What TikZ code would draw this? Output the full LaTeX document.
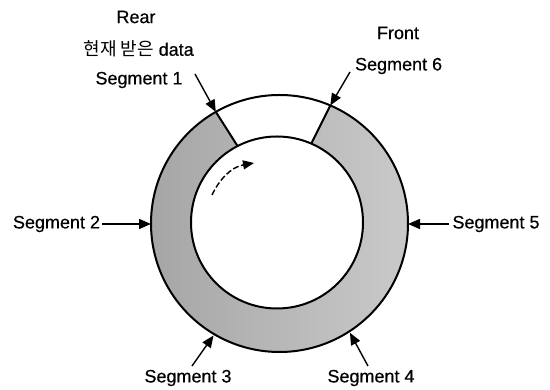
\documentclass[tikz,border=0pt]{standalone}
\usepackage{fontspec}
\setmainfont{Liberation Sans}[FakeBold=0.4]
\newfontfamily\kr{Noto Sans CJK KR}
\usetikzlibrary{arrows.meta,calc}
\begin{document}
\begin{tikzpicture}[x=1pt,y=1pt,
  lbl/.style={inner sep=0pt,font=\fontsize{18}{20}\selectfont},
  ptr/.style={line width=1.4pt,-{Triangle[length=12pt,width=10pt]}},
  rim/.style={line width=2pt}]
\useasboundingbox (0,0) rectangle (550,390);
\coordinate (co) at (279.5,166.5);
\coordinate (ci) at (277,167.5);
% ring fill
\shade[left color=black!36,right color=black!20]
  ($(co)+(119.7:128.5)$) arc[start angle=119.7,end angle=426.7,radius=128.5]
  -- ($(ci)+(66.5:86)$) arc[start angle=426.5,end angle=117.3,radius=86] -- cycle;
\draw[rim] (co) circle[radius=128.5];
\draw[rim] (ci) circle[radius=86];
\draw[rim] ($(co)+(119.7:128.5)$) -- ($(ci)+(117.3:86)$);
\draw[rim] ($(co)+(66.7:128.5)$) -- ($(ci)+(66.5:86)$);
% labels
\node[lbl] (rear) at (136,373) {Rear};
\node[lbl] (cur) at (138.6,341) {{\kr 현재 받은} data};
\node[lbl] (s1) at (139,310) {Segment 1};
\node[lbl] (front) at (398,357) {Front};
\node[lbl] (s6) at (398.6,324) {Segment 6};
\node[lbl] (s2) at (56.5,166) {Segment 2};
\node[lbl] (s5) at (496,166) {Segment 5};
\node[lbl] (s3) at (188,12) {Segment 3};
\node[lbl] (s4) at (371,12) {Segment 4};
% arrow coordinates
\coordinate (a1s) at (195,316);
\coordinate (a1t) at ($(co)+(119.7:128.5)$);
\coordinate (a6s) at (350,318);
\coordinate (a6t) at ($(co)+(66.7:128.5)$);
\coordinate (a2t) at (151,166);
\coordinate (a5t) at (408,166);
\coordinate (a3s) at (192,24);
\coordinate (a3t) at ($(co)+(239.5:130)$);
\coordinate (a4s) at (368,24);
\coordinate (a4t) at ($(co)+(302.8:130)$);
\draw[ptr] (a1s) -- (a1t);
\draw[ptr] (a6s) -- (a6t);
\draw[ptr] (s2.east) ++(2,0) -- (a2t);
\draw[ptr] (s5.west) ++(-3,0) -- (a5t);
\draw[ptr] (a3s) -- (a3t);
\draw[ptr] (a4s) -- (a4t);
% rotation arrow
\coordinate (ds) at (212,195);
\coordinate (de) at (254,227);
\draw[line width=1.4pt,dash pattern=on 6pt off 2.5pt,-{Triangle[length=11pt,width=9pt]}]
  (ds) .. controls (219,210) and (231,223) .. (de);
\end{tikzpicture}
\end{document}
